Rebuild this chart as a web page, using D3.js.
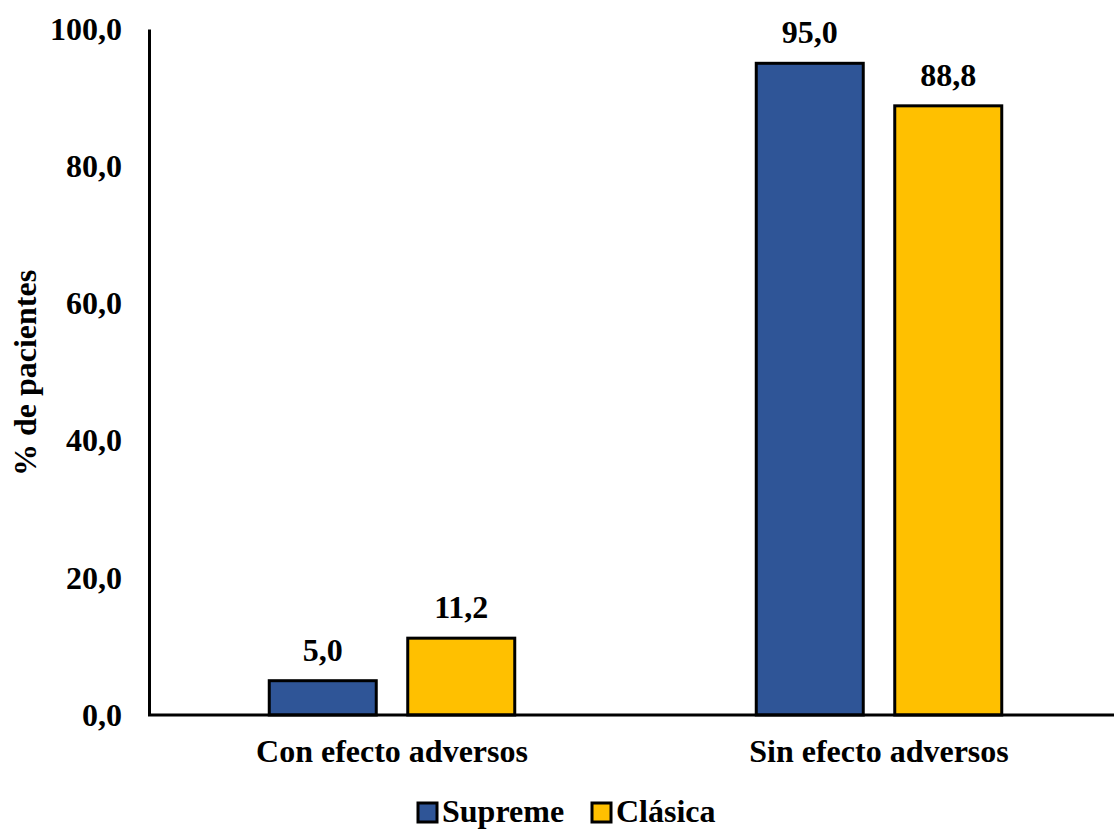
<!DOCTYPE html>
<html>
<head>
<meta charset="utf-8">
<script src="https://cdn.jsdelivr.net/npm/d3@7"></script>
<style>
  html, body { margin: 0; padding: 0; background: #ffffff; }
  svg { display: block; }
  text { font-family: "Liberation Serif", "Times New Roman", serif; font-weight: bold; fill: #000; }
</style>
</head>
<body>
<svg id="chart" width="1114" height="832"></svg>
<script>
const categories = ["Con efecto adversos", "Sin efecto adversos"];
const seriesNames = ["Supreme", "Clásica"];
const supremeValues = [5.0, 95.0];
const clasicaValues = [11.2, 88.8];
const yTickValues = [0, 20, 40, 60, 80, 100];
const seriesColors = ["#2F5597", "#FFC000"];

const values = [supremeValues, clasicaValues];
const fmt = v => d3.format(".1f")(v).replace(".", ",");

const svg = d3.select("#chart");
const FS = 32;

const x0 = d3.scaleBand().domain(categories).range([148.5, 1122.5]).padding(0);
const x1 = d3.scaleBand().domain(seriesNames).range([-122.75, 122.75]).paddingInner(0.2274).paddingOuter(0);
const y = d3.scaleLinear().domain([0, 100]).range([715, 29]);

// Y axis
const yAxis = d3.axisLeft(y).tickValues(yTickValues).tickSize(0).tickPadding(27).tickFormat(fmt);
const gy = svg.append("g").attr("transform", "translate(149,0)").call(yAxis);
gy.select(".domain").attr("stroke", "#000").attr("stroke-width", 3);
gy.selectAll(".tick text")
  .attr("font-family", "Liberation Serif, Times New Roman, serif")
  .attr("font-weight", "bold")
  .attr("font-size", FS)
  .attr("fill", "#000");

// Bars
const groups = svg.append("g").selectAll("g.cat")
  .data(categories)
  .join("g")
  .attr("class", "cat")
  .attr("transform", d => `translate(${x0(d) + x0.bandwidth() / 2},0)`);

groups.each(function (cat, ci) {
  const g = d3.select(this);
  seriesNames.forEach((s, si) => {
    const v = values[si][ci];
    g.append("rect")
      .attr("x", x1(s))
      .attr("y", y(v))
      .attr("width", x1.bandwidth())
      .attr("height", y(0) - y(v))
      .attr("fill", seriesColors[si])
      .attr("stroke", "#000")
      .attr("stroke-width", 3);
    g.append("text")
      .attr("x", x1(s) + x1.bandwidth() / 2)
      .attr("y", y(v) - 20)
      .attr("text-anchor", "middle")
      .attr("font-size", FS)
      .text(fmt(v));
  });
});

// X axis
const xAxis = d3.axisBottom(x0).tickSize(0).tickPadding(0).tickFormat(d => d);
const gx = svg.append("g").attr("transform", "translate(0,715)").call(xAxis);
gx.select(".domain").remove();
svg.append("line")
  .attr("x1", 148).attr("x2", 1114)
  .attr("y1", y(0)).attr("y2", y(0))
  .attr("stroke", "#000").attr("stroke-width", 3);
gx.selectAll(".tick text")
  .attr("font-family", "Liberation Serif, Times New Roman, serif")
  .attr("font-weight", "bold")
  .attr("font-size", FS)
  .attr("fill", "#000")
  .attr("dy", null)
  .attr("y", 47);

// Y axis title
svg.append("text")
  .attr("transform", "translate(36,373) rotate(-90)")
  .attr("text-anchor", "middle")
  .attr("font-size", FS)
  .text("% de pacientes");

// Legend
const legendX = [418, 592];
const legend = svg.append("g");
seriesNames.forEach((s, i) => {
  legend.append("rect")
    .attr("x", legendX[i]).attr("y", 803)
    .attr("width", 19).attr("height", 19)
    .attr("fill", seriesColors[i])
    .attr("stroke", "#000").attr("stroke-width", 3);
  legend.append("text")
    .attr("x", legendX[i] + 24).attr("y", 822)
    .attr("font-size", FS)
    .text(s);
});
</script>
</body>
</html>
